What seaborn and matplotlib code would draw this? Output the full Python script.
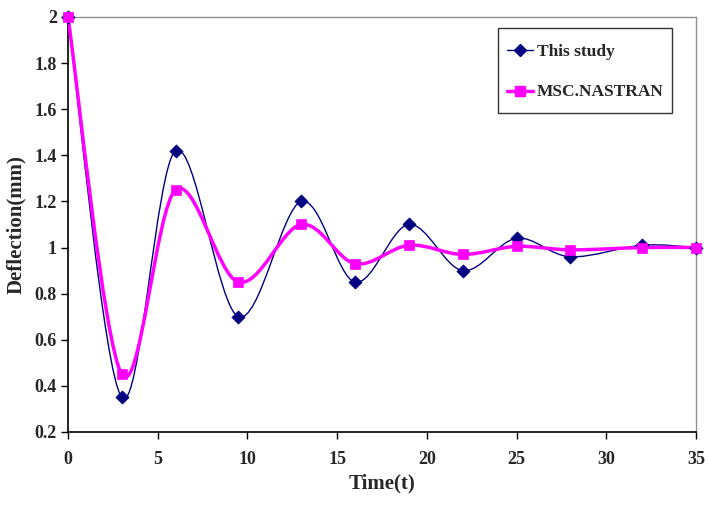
import numpy as np
import pandas as pd
import matplotlib
matplotlib.use("Agg")
import matplotlib.pyplot as plt
from matplotlib.path import Path
from matplotlib.patches import PathPatch
from matplotlib.lines import Line2D
from matplotlib.legend_handler import HandlerLine2D
from matplotlib.ticker import FuncFormatter
import seaborn as sns

time = [0, 3, 6, 9.5, 13, 16, 19, 22, 25, 28, 32, 35]
this_study = [2.0, 0.35, 1.42, 0.70, 1.20, 0.85, 1.10, 0.90, 1.04, 0.96, 1.01, 1.00]
nastran = [2.0, 0.45, 1.25, 0.85, 1.10, 0.93, 1.01, 0.97, 1.005, 0.99, 1.00, 1.00]
series_names = ["This study", "MSC.NASTRAN"]
xticks = [0, 5, 10, 15, 20, 25, 30, 35]
yticks = [0.2, 0.4, 0.6, 0.8, 1.0, 1.2, 1.4, 1.6, 1.8, 2.0]

sns.set_theme(style="white")
plt.rcParams["font.family"] = ["Liberation Serif", "DejaVu Serif"]
plt.rcParams["font.weight"] = "bold"

fig = plt.figure(figsize=(7.08, 5.07), dpi=100)
ax = fig.add_axes([0.096, 0.148, 0.887, 0.8185])


def smooth_path(xs, ys):
    # Excel-like smoothed line: cubic Bezier through the data points
    xs = np.asarray(xs, float)
    ys = np.asarray(ys, float)
    n = len(xs)
    verts = [(xs[0], ys[0])]
    codes = [Path.MOVETO]
    for i in range(n - 1):
        p0 = (xs[max(i - 1, 0)], ys[max(i - 1, 0)])
        p1 = (xs[i], ys[i])
        p2 = (xs[i + 1], ys[i + 1])
        p3 = (xs[min(i + 2, n - 1)], ys[min(i + 2, n - 1)])
        c1 = (p1[0] + (p2[0] - p0[0]) / 6, p1[1] + (p2[1] - p0[1]) / 6)
        c2 = (p2[0] - (p3[0] - p1[0]) / 6, p2[1] - (p3[1] - p1[1]) / 6)
        verts += [c1, c2, p2]
        codes += [Path.CURVE4] * 3
    return Path(verts, codes)


class ShiftedLineHandler(HandlerLine2D):
    def __init__(self, shift=3.0, **kw):
        super().__init__(**kw)
        self._shift = shift

    def create_artists(self, legend, orig_handle, xdescent, ydescent, width, height, fontsize, trans):
        arts = super().create_artists(legend, orig_handle, xdescent, ydescent, width, height, fontsize, trans)
        for a in arts:
            a.set_ydata(np.asarray(a.get_ydata(), float) - self._shift)
        return arts


navy = "#000080"
magenta = "#FF00FF"

ax.add_patch(PathPatch(smooth_path(time, this_study), fill=False, edgecolor=navy, lw=1.0, zorder=2))
ax.add_patch(PathPatch(smooth_path(time, nastran), fill=False, edgecolor=magenta, lw=2.5, zorder=3))

df1 = pd.DataFrame({"t": time, "v": this_study})
df2 = pd.DataFrame({"t": time, "v": nastran})
sns.scatterplot(data=df1, x="t", y="v", marker="D", s=45, color=navy, edgecolor=navy,
                linewidth=0.5, ax=ax, zorder=4, clip_on=False)
sns.scatterplot(data=df2, x="t", y="v", marker="s", s=60, color=magenta, edgecolor=magenta,
                linewidth=0.5, ax=ax, zorder=5, clip_on=False)

ax.set_xlim(0, 35)
ax.set_ylim(0.2, 2.0)
ax.set_xticks(xticks)
ax.set_yticks(yticks)
ax.yaxis.set_major_formatter(FuncFormatter(lambda v, p: "%g" % round(v, 2)))
ax.tick_params(axis="both", direction="out", length=5, width=1, color="black",
               bottom=True, left=True, labelsize=13, pad=3)
ax.tick_params(axis="x", pad=9)
for lab in ax.get_xticklabels() + ax.get_yticklabels():
    lab.set_fontweight("bold")

ax.set_xlabel("Time(t)", fontsize=15, fontweight="bold", labelpad=4)
ax.set_ylabel("Deflection(mm)", fontsize=15, fontweight="bold", labelpad=6)

for s in ["left", "bottom"]:
    ax.spines[s].set_color("black")
    ax.spines[s].set_linewidth(1.2)
for s in ["top", "right"]:
    ax.spines[s].set_color("#909090")
    ax.spines[s].set_linewidth(1.0)

handles = [
    Line2D([], [], color=navy, lw=1.0, marker="D", markersize=6, markerfacecolor=navy, markeredgecolor=navy),
    Line2D([], [], color=magenta, lw=2.5, marker="s", markersize=7, markerfacecolor=magenta, markeredgecolor=magenta),
]
leg = ax.legend(handles, series_names, loc="upper right", bbox_to_anchor=(0.962, 0.9735),
                frameon=True, fancybox=False, edgecolor="black", handlelength=1.5,
                handleheight=2.0, handletextpad=0.23, labelspacing=0.8, borderpad=0.5,
                borderaxespad=0.0,
                handler_map={Line2D: ShiftedLineHandler(shift=3.0)},
                prop={"weight": "bold", "size": 12.5, "family": ["Liberation Serif"]})
leg.get_frame().set_linewidth(1.0)

fig.savefig("out.png", dpi=100)
